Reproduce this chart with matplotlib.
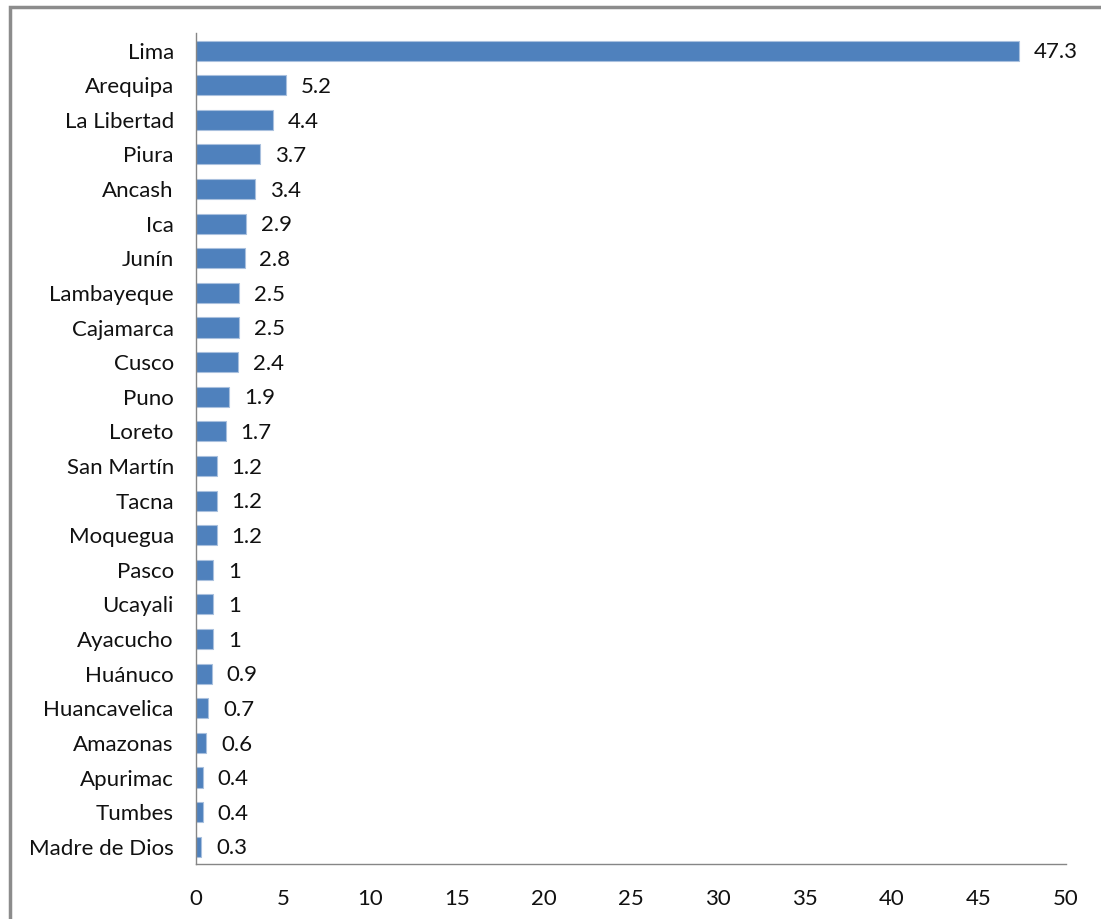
import matplotlib.pyplot as plt
from matplotlib.patches import Rectangle

# Regions and their values (%)
regions = ["Lima", "Arequipa", "La Libertad", "Piura", "Ancash", "Ica", "Junín",
           "Lambayeque", "Cajamarca", "Cusco", "Puno", "Loreto", "San Martín",
           "Tacna", "Moquegua", "Pasco", "Ucayali", "Ayacucho", "Huánuco",
           "Huancavelica", "Amazonas", "Apurimac", "Tumbes", "Madre de Dios"]
values = [47.3, 5.2, 4.4, 3.7, 3.4, 2.9, 2.8, 2.5, 2.5, 2.4, 1.9, 1.7, 1.2,
          1.2, 1.2, 1, 1, 1, 0.9, 0.7, 0.6, 0.4, 0.4, 0.3]
xticks = [0, 5, 10, 15, 20, 25, 30, 35, 40, 45, 50]

plt.rcParams['font.family'] = ['Lato', 'DejaVu Sans']

fig = plt.figure(figsize=(11.01, 9.19), dpi=100)
ax = fig.add_axes([0.178, 0.0598, 0.790, 0.904])

# Outer chart frame
fig.patches.append(Rectangle((0.009, -0.1), 1.2, 1.092, transform=fig.transFigure,
                             fill=False, edgecolor="#8c8c8c", linewidth=2.5))

ypos = list(range(len(regions)))
ax.barh(ypos, values, height=0.58, color="#4F81BD", edgecolor="#a9c0de", linewidth=0.8)
for y, v in zip(ypos, values):
    ax.text(v + 0.85, y + 0.05, f"{v:g}", va="center", ha="left", fontsize=16, color="#111111")

ax.set_yticks(ypos)
ax.set_yticklabels(regions, fontsize=16, color="#111111")
ax.set_xticks(xticks)
ax.set_xticklabels([str(t) for t in xticks], fontsize=16, color="#111111")
ax.set_xlim(0, 50)
ax.set_ylim(len(regions) - 0.5, -0.5)
ax.tick_params(axis="y", length=0, pad=16)
ax.tick_params(axis="x", length=0, pad=18)

for s in ["top", "right"]:
    ax.spines[s].set_visible(False)
for s in ["left", "bottom"]:
    ax.spines[s].set_color("#868686")
    ax.spines[s].set_linewidth(1)

fig.savefig("out.png", dpi=100)
